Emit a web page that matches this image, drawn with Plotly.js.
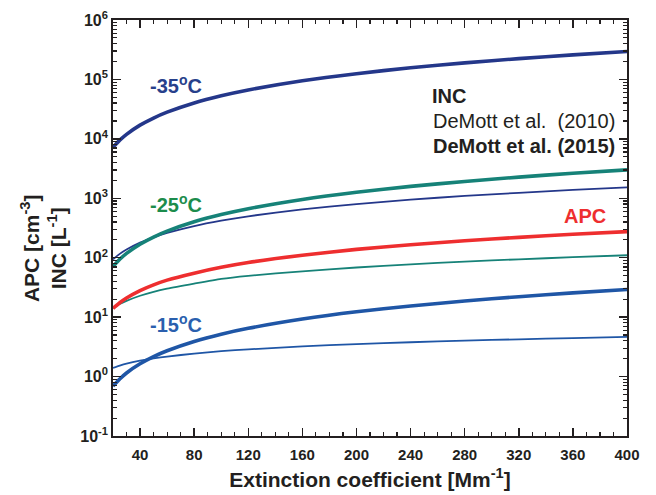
<!DOCTYPE html>
<html>
<head>
<meta charset="utf-8">
<script src="https://cdn.plot.ly/plotly-3.0.1.min.js"></script>
<style>
  html, body { margin: 0; padding: 0; background: #fff; }
  #chart { width: 656px; height: 495px; }
</style>
</head>
<body>
<div id="chart"></div>
<script>
// values
const extinction = [20, 25, 30, 40, 50, 60, 80, 100, 120, 160, 200, 240, 280, 320, 360, 400]
const apc = [14.1, 17.5, 21, 28, 35, 42, 55, 69, 83, 110, 138, 165, 193, 220, 248, 275]
const inc35_2015 = [7200, 9500, 11900, 17000, 22400, 28100, 40200, 53000, 66400, 94900, 125000, 156900, 190000, 224000, 259000, 295600]
const inc35_2010 = [94, 116, 137, 179, 220, 261, 341, 420, 498, 650, 800, 948, 1094, 1238, 1382, 1523]
const inc25_2015 = [71, 94, 118, 169, 223, 280, 402, 531, 667, 955, 1262, 1586, 1921, 2272, 2635, 3003]
const inc25_2010 = [14.3, 16.6, 18.8, 22.9, 26.7, 30.2, 36.7, 44, 49.5, 59, 68.5, 77.5, 86, 94, 102, 110]
const inc15_2015 = [0.69, 0.91, 1.15, 1.64, 2.17, 2.72, 3.9, 5.16, 6.48, 9.28, 12.3, 15.4, 18.7, 22.1, 25.6, 29.2]
const inc15_2010 = [1.4, 1.53, 1.65, 1.85, 2.02, 2.17, 2.44, 2.67, 2.87, 3.22, 3.52, 3.78, 4.02, 4.24, 4.45, 4.64]

const xTicks = [40, 80, 120, 160, 200, 240, 280, 320, 360, 400]
const yTicks = [0.1, 1, 10, 100, 1e3, 1e4, 1e5, 1e6]
const yTickText = ['10<sup>-1</sup>', '10<sup>0</sup>', '10<sup>1</sup>', '10<sup>2</sup>',
  '10<sup>3</sup>', '10<sup>4</sup>', '10<sup>5</sup>', '10<sup>6</sup>']

const NAVY = '#24378a', TEAL = '#168278', RED = '#ee2e2f', BLUE = '#1f56a6'
const INK = '#231f20'
const FONT = 'Liberation Sans, Arial, sans-serif'

// minor log ticks 2..9 in each decade
let yMinor = []
for (let d = -1; d < 6; d++) {
  for (let k = 2; k < 10; k++) yMinor.push(k * Math.pow(10, d))
}

function line(y, color, width) {
  return {
    x: extinction, y: y, mode: 'lines',
    line: { color: color, width: width, shape: 'spline', smoothing: 0.6 },
    hoverinfo: 'skip', showlegend: false
  }
}

const data = [
  line(inc35_2015, NAVY, 3.6),
  line(inc35_2010, NAVY, 1.8),
  line(inc25_2015, TEAL, 3.6),
  line(inc25_2010, TEAL, 1.8),
  line(apc, RED, 3.6),
  line(inc15_2015, BLUE, 3.6),
  line(inc15_2010, BLUE, 1.8)
]

function label(text, x, y, color, anchor, size) {
  return {
    text: text, x: x, y: y, xref: 'paper', yref: 'paper',
    xanchor: anchor, yanchor: 'middle', showarrow: false,
    font: { family: FONT, size: size || 20, color: color }
  }
}

const layout = {
  width: 656, height: 495,
  margin: { l: 113, r: 29, t: 20, b: 59 },
  paper_bgcolor: '#fff', plot_bgcolor: '#fff',
  font: { family: FONT, color: INK },
  xaxis: {
    range: [20, 400], tickmode: 'array', tickvals: xTicks,
    ticks: 'inside', ticklen: 8, tickwidth: 1.5, tickcolor: INK,
    minor: { tickmode: 'linear', tick0: 0, dtick: 10, ticks: 'inside', ticklen: 4, tickwidth: 1.2, tickcolor: INK, showgrid: false },
    showline: true, linecolor: INK, linewidth: 1.8, mirror: 'ticks',
    showgrid: false, zeroline: false, ticklabelstandoff: 4,
    tickfont: { family: FONT, size: 15, weight: 'bold', color: INK },
    title: { text: 'Extinction coefficient [Mm<sup>-1</sup>]', font: { family: FONT, size: 21, weight: 'bold', color: INK }, standoff: 10 }
  },
  yaxis: {
    type: 'log', range: [-1, 6], tickmode: 'array', tickvals: yTicks, ticktext: yTickText,
    ticks: 'inside', ticklen: 8, tickwidth: 1.5, tickcolor: INK,
    minor: { tickmode: 'array', tickvals: yMinor, ticks: 'inside', ticklen: 4, tickwidth: 1.2, tickcolor: INK, showgrid: false },
    showline: true, linecolor: INK, linewidth: 1.8, mirror: 'ticks',
    showgrid: false, zeroline: false,
    tickfont: { family: FONT, size: 16, weight: 'bold', color: INK }
  },
  annotations: [
    {
      text: 'APC [cm<sup>-3</sup>]<br>INC [L<sup>-1</sup>]', x: -0.134, y: 0.452,
      xref: 'paper', yref: 'paper', xanchor: 'center', yanchor: 'middle',
      showarrow: false, textangle: -90,
      font: { family: FONT, size: 21, weight: 'bold', color: INK }
    },
    label('<b>-35<sup>o</sup>C</b>', 0.068, 0.844, '#27408b', 'left'),
    label('<b>-25<sup>o</sup>C</b>', 0.068, 0.559, '#1c8c4c', 'left'),
    label('<b>-15<sup>o</sup>C</b>', 0.068, 0.270, '#2a5fae', 'left'),
    label('<b>APC</b>', 0.963, 0.530, RED, 'right'),
    label('<b>INC</b>', 0.617, 0.8185, INK, 'left'),
    label('DeMott et al.\u00a0 (2010)', 0.619, 0.757, INK, 'left'),
    label('<b>DeMott et al. (2015)</b>', 0.619, 0.697, INK, 'left')
  ]
}

Plotly.newPlot('chart', data, layout, { staticPlot: true, displayModeBar: false })
</script>
</body>
</html>
